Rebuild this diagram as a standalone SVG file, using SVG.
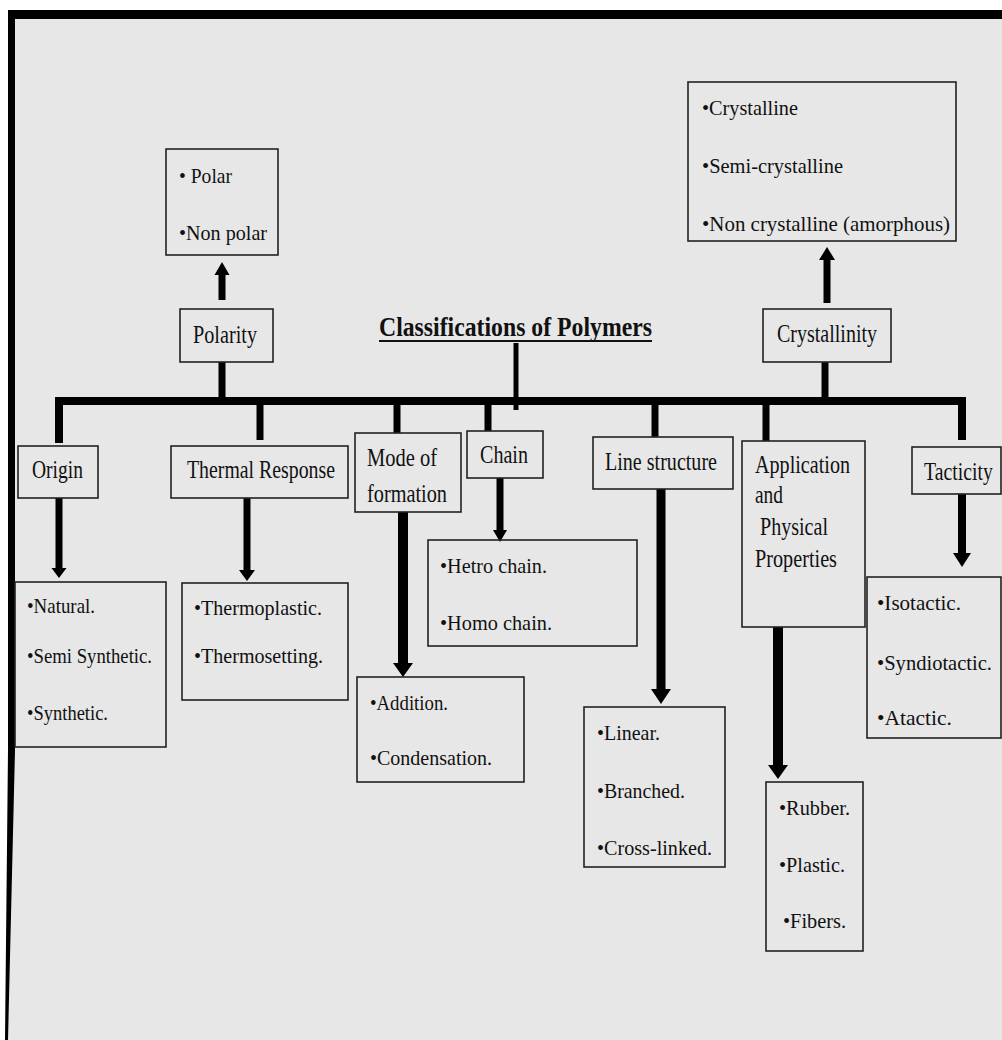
<svg xmlns="http://www.w3.org/2000/svg" width="1002" height="1040" viewBox="0 0 1002 1040">
<style>
.box{fill:none;stroke:#222;stroke-width:1.6}
.lbl{font-family:"Liberation Serif","Times New Roman",serif;font-size:25px;fill:#111}
.lst{font-family:"Liberation Serif","Times New Roman",serif;font-size:22px;fill:#111}
.ttl{font-family:"Liberation Serif","Times New Roman",serif;font-size:28px;font-weight:bold;fill:#111}
.ln{stroke:#000;stroke-width:7;fill:none}
.hd{fill:#000}
</style>
<rect x="0" y="0" width="1002" height="1040" fill="#ffffff"/>
<rect x="8" y="10" width="994" height="1030" fill="#e7e7e7"/>
<g id="frame">
<rect x="8" y="10" width="994" height="9" fill="#000"/>
<polygon points="8,10 15,10 15,750 8,1040 5,1040 8,750" fill="#000"/>
</g>
<g id="title">
<text class="ttl" x="379" y="336" textLength="273" lengthAdjust="spacingAndGlyphs">Classifications of Polymers</text>
<line x1="379" y1="341" x2="652" y2="341" stroke="#111" stroke-width="2"/>
</g>
<g id="connectors">
<path d="M59,443 V401 H962 V440" stroke="#000" stroke-width="8" fill="none" stroke-linejoin="miter"/>
<line class="ln" x1="222" y1="362" x2="222" y2="401"/>
<line x1="516" y1="343" x2="516" y2="410" stroke="#000" stroke-width="5"/>
<line class="ln" x1="825" y1="362" x2="825" y2="401"/>
<line class="ln" x1="260" y1="401" x2="260" y2="440"/>
<line class="ln" x1="397" y1="401" x2="397" y2="433"/>
<line class="ln" x1="488" y1="401" x2="488" y2="431"/>
<line class="ln" x1="655" y1="401" x2="655" y2="437"/>
<line class="ln" x1="766" y1="401" x2="766" y2="441"/>
<line class="ln" x1="222" y1="300" x2="222" y2="274"/>
<polygon class="hd" points="214.5,275 229.5,275 222,262"/>
<line class="ln" x1="827" y1="303" x2="827" y2="259"/>
<polygon class="hd" points="819,260 835,260 827,247"/>
<line class="ln" x1="59" y1="498" x2="59" y2="569"/>
<polygon class="hd" points="51.5,568 66.5,568 59,578"/>
<line class="ln" x1="247" y1="498" x2="247" y2="571"/>
<polygon class="hd" points="239,570 255,570 247,581"/>
<line class="ln" x1="403" y1="512" x2="403" y2="664" style="stroke-width:10"/>
<polygon class="hd" points="393,663 413,663 403,677"/>
<line class="ln" x1="500" y1="478" x2="500" y2="531"/>
<polygon class="hd" points="493,530 507,530 500,542"/>
<line class="ln" x1="661" y1="489" x2="661" y2="690" style="stroke-width:9"/>
<polygon class="hd" points="651,689 671,689 661,704"/>
<line class="ln" x1="778" y1="627" x2="778" y2="766" style="stroke-width:10"/>
<polygon class="hd" points="768,765 788,765 778,779"/>
<line class="ln" x1="962" y1="494" x2="962" y2="554" style="stroke-width:8"/>
<polygon class="hd" points="953,553 971,553 962,567"/>
</g>
<g id="polar-list">
<rect class="box" x="166" y="149" width="112" height="106"/>
<text class="lst" x="179" y="183" textLength="53" lengthAdjust="spacingAndGlyphs">• Polar</text>
<text class="lst" x="179" y="240" textLength="88" lengthAdjust="spacingAndGlyphs">•Non polar</text>
</g>
<g id="crystal-list">
<rect class="box" x="688" y="82" width="268" height="159"/>
<text class="lst" x="702" y="115" textLength="96" lengthAdjust="spacingAndGlyphs">•Crystalline</text>
<text class="lst" x="702" y="173" textLength="141" lengthAdjust="spacingAndGlyphs">•Semi-crystalline</text>
<text class="lst" x="702" y="231" textLength="248" lengthAdjust="spacingAndGlyphs">•Non crystalline (amorphous)</text>
</g>
<g id="polarity">
<rect class="box" x="180" y="309" width="93" height="53"/>
<text class="lbl" x="193" y="343" textLength="64" lengthAdjust="spacingAndGlyphs">Polarity</text>
</g>
<g id="crystallinity">
<rect class="box" x="763" y="309" width="128" height="53"/>
<text class="lbl" x="777" y="342" textLength="100" lengthAdjust="spacingAndGlyphs">Crystallinity</text>
</g>
<g id="origin">
<rect class="box" x="18" y="446" width="80" height="52"/>
<text class="lbl" x="32" y="478" textLength="51" lengthAdjust="spacingAndGlyphs">Origin</text>
</g>
<g id="thermal">
<rect class="box" x="171" y="446" width="177" height="52"/>
<text class="lbl" x="187" y="478" textLength="148" lengthAdjust="spacingAndGlyphs">Thermal Response</text>
</g>
<g id="mode">
<rect class="box" x="355" y="433" width="106" height="79"/>
<text class="lbl" x="367" y="466" textLength="70" lengthAdjust="spacingAndGlyphs">Mode of</text>
<text class="lbl" x="367" y="502" textLength="80" lengthAdjust="spacingAndGlyphs">formation</text>
</g>
<g id="chain">
<rect class="box" x="467" y="431" width="76" height="47"/>
<text class="lbl" x="480" y="463" textLength="48" lengthAdjust="spacingAndGlyphs">Chain</text>
</g>
<g id="line-structure">
<rect class="box" x="593" y="437" width="140" height="52"/>
<text class="lbl" x="605" y="470" textLength="112" lengthAdjust="spacingAndGlyphs">Line structure</text>
</g>
<g id="application">
<rect class="box" x="742" y="441" width="123" height="186"/>
<text class="lbl" x="755" y="473" textLength="95" lengthAdjust="spacingAndGlyphs">Application</text>
<text class="lbl" x="755" y="503" textLength="28" lengthAdjust="spacingAndGlyphs">and</text>
<text class="lbl" x="760" y="535" textLength="68" lengthAdjust="spacingAndGlyphs">Physical</text>
<text class="lbl" x="755" y="567" textLength="82" lengthAdjust="spacingAndGlyphs">Properties</text>
</g>
<g id="tacticity">
<rect class="box" x="912" y="447" width="89" height="47"/>
<text class="lbl" transform="translate(924,480) scale(0.79,1)" x="0" y="0">Tacticity</text>
</g>
<g id="origin-list">
<rect class="box" x="15" y="582" width="151" height="165"/>
<text class="lst" x="27" y="613" textLength="68" lengthAdjust="spacingAndGlyphs">•Natural.</text>
<text class="lst" x="27" y="663" textLength="125" lengthAdjust="spacingAndGlyphs">•Semi Synthetic.</text>
<text class="lst" x="27" y="720" textLength="81" lengthAdjust="spacingAndGlyphs">•Synthetic.</text>
</g>
<g id="thermal-list">
<rect class="box" x="182" y="583" width="166" height="117"/>
<text class="lst" x="194" y="615" textLength="128" lengthAdjust="spacingAndGlyphs">•Thermoplastic.</text>
<text class="lst" x="194" y="663" textLength="129" lengthAdjust="spacingAndGlyphs">•Thermosetting.</text>
</g>
<g id="mode-list">
<rect class="box" x="357" y="677" width="167" height="105"/>
<text class="lst" x="370" y="710" textLength="78" lengthAdjust="spacingAndGlyphs">•Addition.</text>
<text class="lst" x="370" y="765" textLength="122" lengthAdjust="spacingAndGlyphs">•Condensation.</text>
</g>
<g id="chain-list">
<rect class="box" x="428" y="540" width="209" height="106"/>
<text class="lst" x="440" y="573" textLength="107" lengthAdjust="spacingAndGlyphs">•Hetro chain.</text>
<text class="lst" x="440" y="630" textLength="112" lengthAdjust="spacingAndGlyphs">•Homo chain.</text>
</g>
<g id="line-list">
<rect class="box" x="584" y="707" width="141" height="160"/>
<text class="lst" x="597" y="740" textLength="63" lengthAdjust="spacingAndGlyphs">•Linear.</text>
<text class="lst" x="597" y="798" textLength="88" lengthAdjust="spacingAndGlyphs">•Branched.</text>
<text class="lst" x="597" y="855" textLength="115" lengthAdjust="spacingAndGlyphs">•Cross-linked.</text>
</g>
<g id="application-list">
<rect class="box" x="766" y="782" width="97" height="169"/>
<text class="lst" x="779" y="815" textLength="71" lengthAdjust="spacingAndGlyphs">•Rubber.</text>
<text class="lst" x="779" y="872" textLength="66" lengthAdjust="spacingAndGlyphs">•Plastic.</text>
<text class="lst" x="783" y="928" textLength="63" lengthAdjust="spacingAndGlyphs">•Fibers.</text>
</g>
<g id="tacticity-list">
<rect class="box" x="867" y="577" width="134" height="161"/>
<text class="lst" x="877" y="610" textLength="84" lengthAdjust="spacingAndGlyphs">•Isotactic.</text>
<text class="lst" x="877" y="670" textLength="115" lengthAdjust="spacingAndGlyphs">•Syndiotactic.</text>
<text class="lst" x="877" y="725" textLength="75" lengthAdjust="spacingAndGlyphs">•Atactic.</text>
</g>
</svg>
